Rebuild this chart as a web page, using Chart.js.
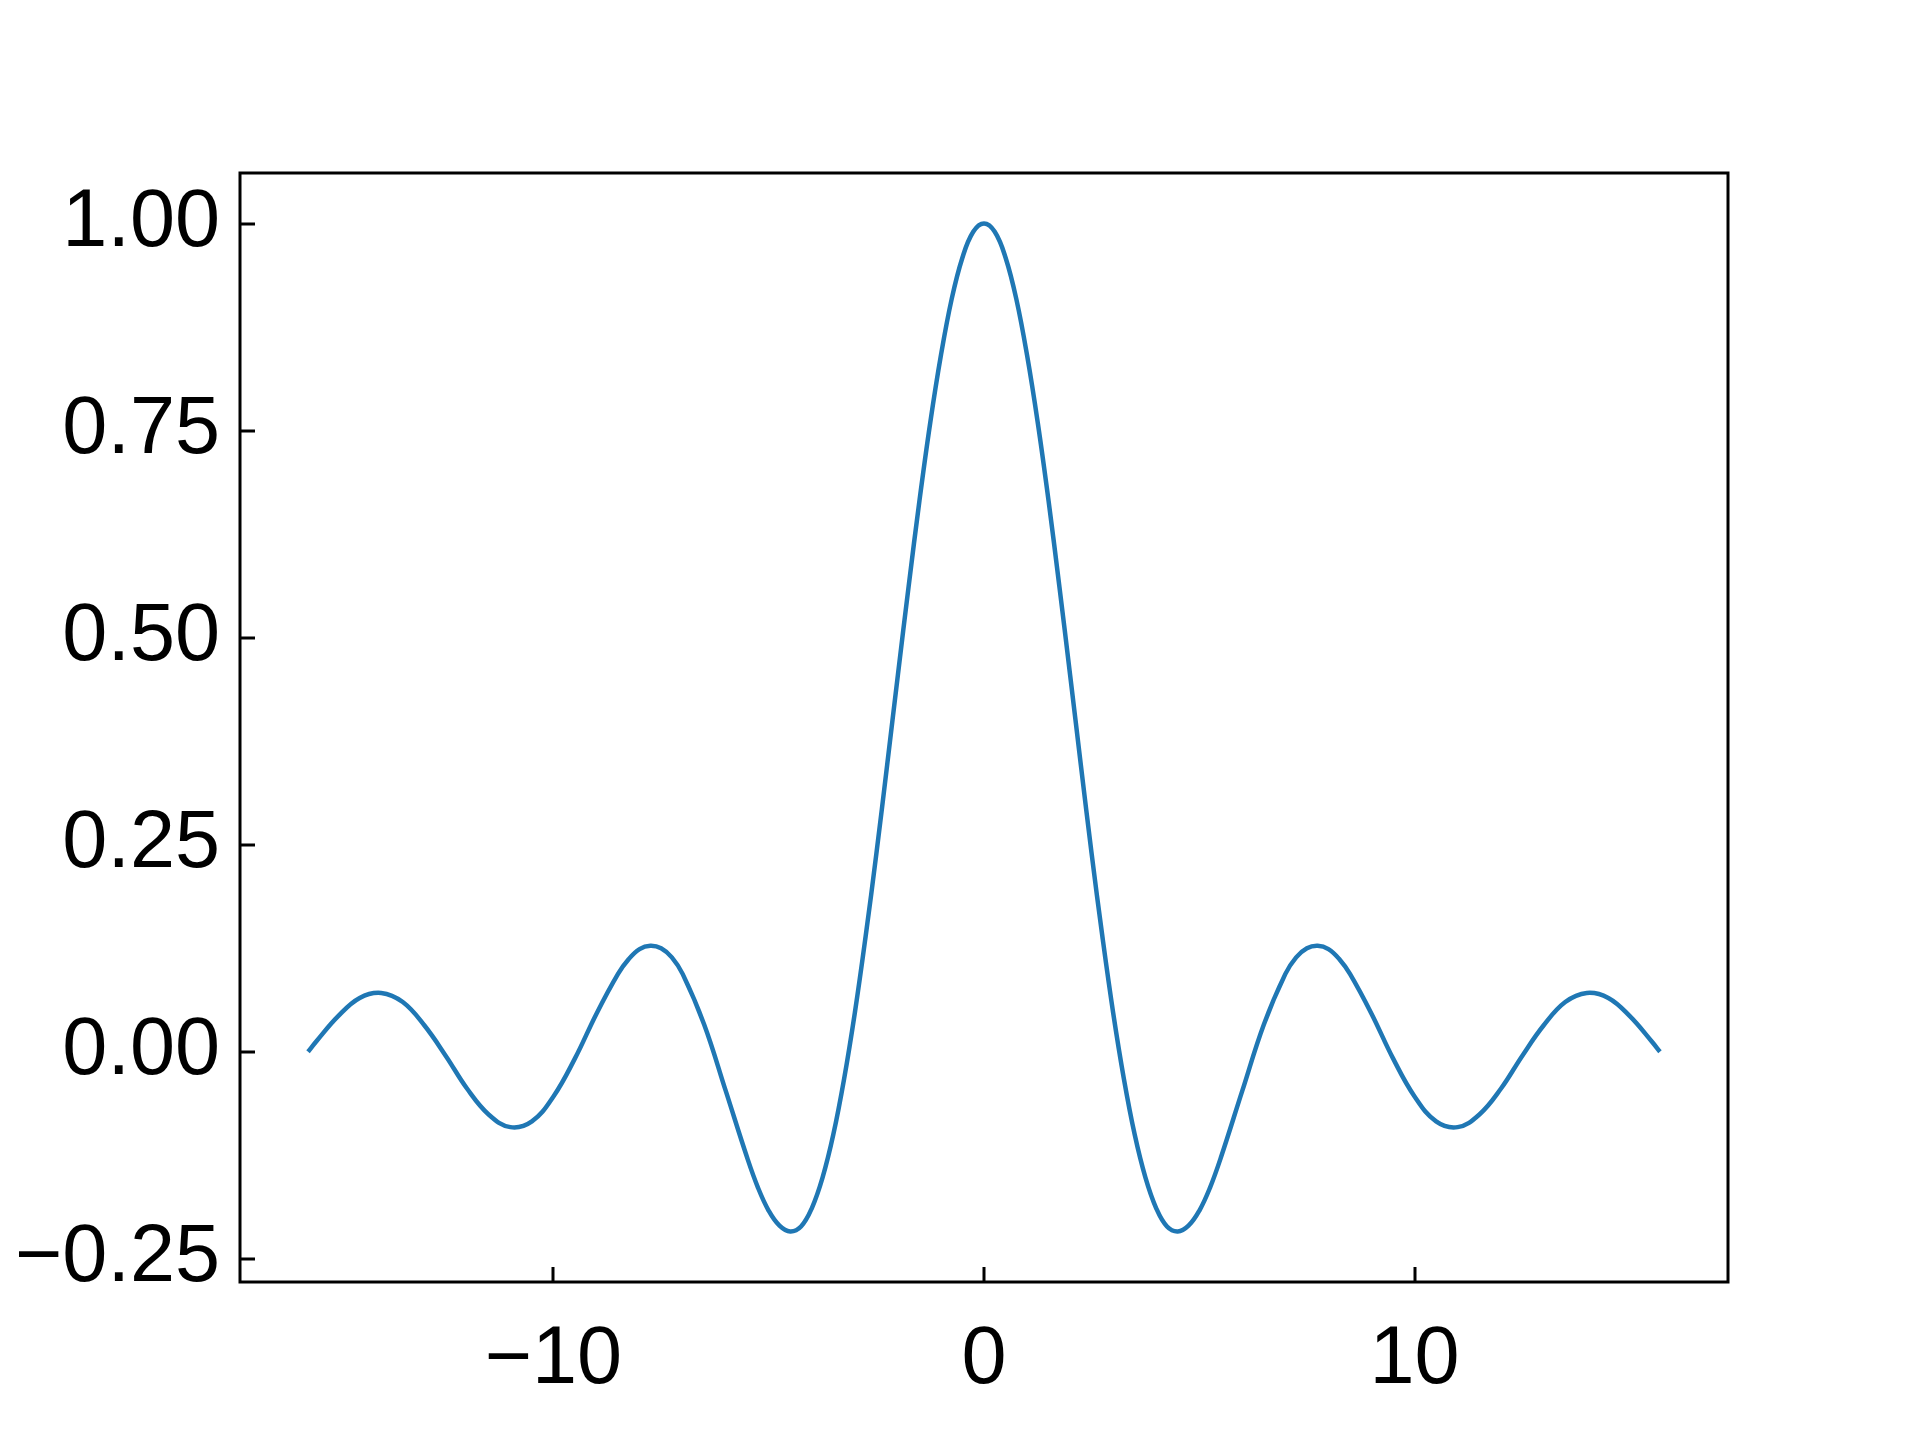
<!DOCTYPE html>
<html>
<head>
<meta charset="utf-8">
<script src="https://cdn.jsdelivr.net/npm/chart.js@4/dist/chart.umd.min.js"></script>
<style>
  html, body { margin: 0; padding: 0; background: #fff; }
  #wrap { width: 1920px; height: 1440px; }
</style>
</head>
<body>
<div id="wrap"><canvas id="myChart" width="1920" height="1440"></canvas></div>
<script>
// values
const xValues = [-15.7, -15.5, -15.0, -14.5, -14.0, -13.5, -13.0, -12.5, -12.0, -11.5, -11.0,
  -10.5, -10.0, -9.5, -9.0, -8.5, -8.25, -8.0, -7.75, -7.5, -7.25, -7.0, -6.5, -6.0, -5.5, -5.25, -5.0, -4.75, -4.5, -4.25, -4.0,
  -3.75, -3.5, -3.25, -3.0, -2.75, -2.5, -2.25, -2.0, -1.75, -1.5, -1.25, -1.0, -0.75, -0.5, -0.25, 0,
  0.25, 0.5, 0.75, 1.0, 1.25, 1.5, 1.75, 2.0, 2.25, 2.5, 2.75, 3.0, 3.25, 3.5, 3.75,
  4.0, 4.25, 4.5, 4.75, 5.0, 5.25, 5.5, 6.0, 6.5, 7.0, 7.25, 7.5, 7.75, 8.0, 8.25,
  8.5, 9.0, 9.5, 10.0, 10.5, 11.0, 11.5, 12.0, 12.5, 13.0, 13.5, 14.0, 14.5, 15.0, 15.5, 15.7]
const yValues = [0.000, 0.013, 0.043, 0.065, 0.071, 0.060, 0.032, -0.005, -0.045, -0.076, -0.091,
  -0.084, -0.054, -0.008, 0.046, 0.094, 0.112, 0.124, 0.128, 0.125, 0.114, 0.094, 0.033, -0.047, -0.128, -0.164, -0.192, -0.210, -0.217, -0.211, -0.189,
  -0.152, -0.100, -0.033, 0.047, 0.139, 0.239, 0.346, 0.455, 0.562, 0.665, 0.759, 0.841, 0.909, 0.959, 0.990, 1.000,
  0.990, 0.959, 0.909, 0.841, 0.759, 0.665, 0.562, 0.455, 0.346, 0.239, 0.139, 0.047, -0.033, -0.100, -0.152,
  -0.189, -0.211, -0.217, -0.210, -0.192, -0.164, -0.128, -0.047, 0.033, 0.094, 0.114, 0.125, 0.128, 0.124, 0.112,
  0.094, 0.046, -0.008, -0.054, -0.084, -0.091, -0.076, -0.045, -0.005, 0.032, 0.060, 0.071, 0.065, 0.043, 0.013, 0.000]
const xTicks = [-10, 0, 10]
const yTicks = [-0.25, 0.00, 0.25, 0.50, 0.75, 1.00]

const points = xValues.map((x, i) => ({x: x, y: yValues[i]}))
const fmtMinus = s => s.replace('-', '\u2212')

// frame around the plot plus inward ticks on left and bottom
const framePlugin = {
  id: 'frame',
  afterDraw(chart) {
    const ctx = chart.ctx
    const a = chart.chartArea
    const xs = chart.scales.x, ys = chart.scales.y
    ctx.save()
    ctx.strokeStyle = '#000'
    ctx.lineWidth = 3
    ctx.strokeRect(a.left, a.top, a.right - a.left, a.bottom - a.top)
    ctx.beginPath()
    yTicks.forEach(v => {
      const py = Math.round(ys.getPixelForValue(v))
      ctx.moveTo(a.left, py); ctx.lineTo(a.left + 15, py)
    })
    xTicks.forEach(v => {
      const px = Math.round(xs.getPixelForValue(v))
      ctx.moveTo(px, a.bottom); ctx.lineTo(px, a.bottom - 15)
    })
    ctx.stroke()
    ctx.restore()
  }
}

const ctx = document.getElementById('myChart')
const myChart = new Chart(ctx, {
  type: 'line',
  data: {
    datasets: [{
      data: points,
      borderColor: '#1f77b4',
      borderWidth: 4.5,
      pointRadius: 0,
      tension: 0.4,
      fill: false
    }]
  },
  options: {
    responsive: false,
    animation: false,
    devicePixelRatio: 1,
    layout: { padding: { top: 173, right: 192, left: 0, bottom: 0 } },
    plugins: { legend: { display: false }, tooltip: { enabled: false } },
    scales: {
      x: {
        type: 'linear',
        min: -17.28, max: 17.28,
        border: { display: false },
        grid: { display: false, drawTicks: false },
        afterBuildTicks: s => { s.ticks = xTicks.map(v => ({value: v})) },
        afterFit: s => { s.height = 158 },
        ticks: {
          color: '#000',
          padding: 30,
          maxRotation: 0,
          font: { family: '"Liberation Sans", Arial, sans-serif', size: 81 },
          callback: v => fmtMinus(String(v))
        }
      },
      y: {
        type: 'linear',
        min: -0.278, max: 1.061,
        border: { display: false },
        grid: { display: false, drawTicks: false },
        afterBuildTicks: s => { s.ticks = yTicks.map(v => ({value: v})) },
        afterFit: s => { s.width = 240 },
        ticks: {
          color: '#000',
          padding: 20,
          font: { family: '"Liberation Sans", Arial, sans-serif', size: 81 },
          callback: v => fmtMinus(Number(v).toFixed(2))
        }
      }
    }
  },
  plugins: [framePlugin]
})
</script>
</body>
</html>
